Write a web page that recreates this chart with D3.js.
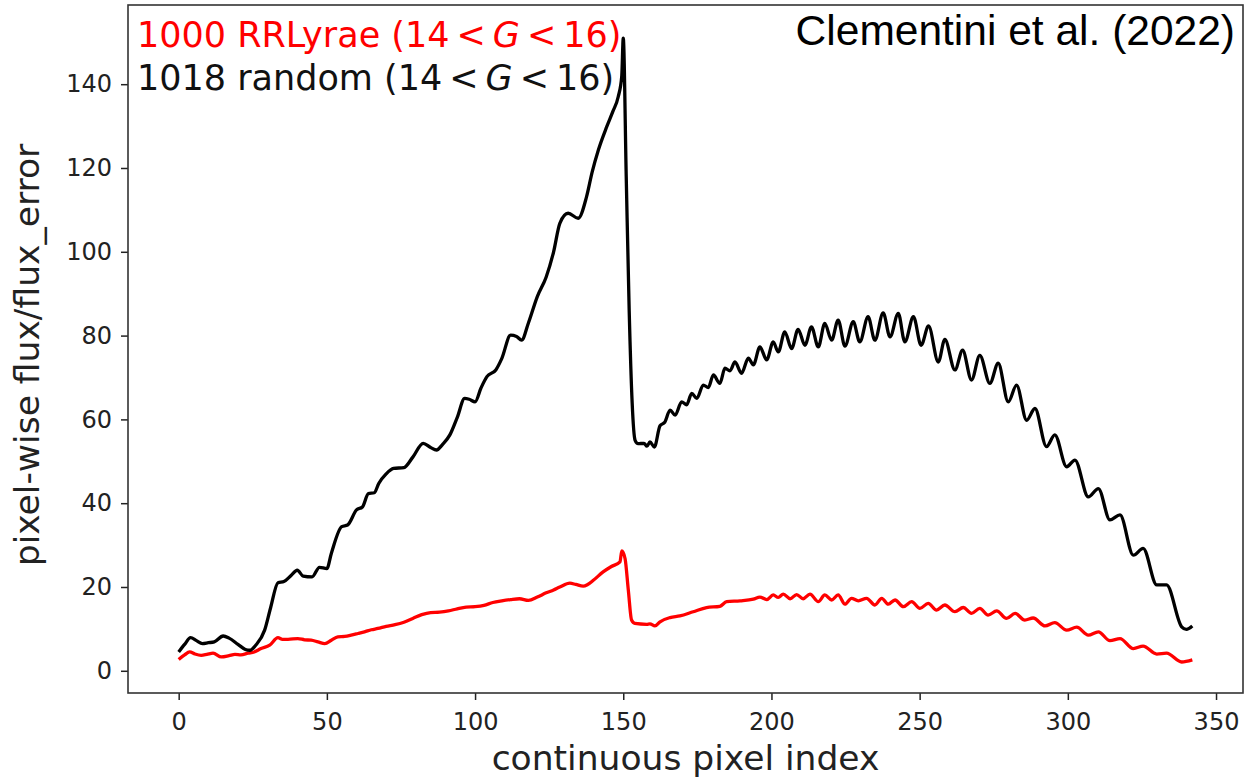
<!DOCTYPE html>
<html>
<head>
<meta charset="utf-8">
<script src="https://cdn.jsdelivr.net/npm/d3@7"></script>
<style>
  html, body { margin: 0; padding: 0; background: #fff; }
  svg { display: block; }
</style>
</head>
<body>
<svg id="chart" width="1246" height="779"></svg>
<script>
// ---- data ----
const xTicks = [0, 50, 100, 150, 200, 250, 300, 350];
const yTicks = [0, 20, 40, 60, 80, 100, 120, 140];

// black: 1018 random (14 < G < 16) ; pixel index / value pairs
const blackIndex = [0, 2, 4, 6, 8, 10, 12, 15, 17, 20, 22.5, 24, 26, 29, 31, 33.5, 35.5, 38, 40, 42, 45, 47.5, 50, 51.5, 55, 57, 60, 62, 64, 66, 67.5, 70, 72.5, 76, 79, 82.5, 85, 87, 89, 91.5, 94, 96.5, 98, 100, 102, 104, 107, 109, 112, 114, 115.7, 118, 121, 124, 126.5, 128.6, 131.4, 134.8, 137.6, 139.5, 141.6, 144.4, 146.5, 148.3, 149.5, 150, 151, 152, 153, 154, 155, 157, 158, 159, 160.5, 162.4, 164, 165.8, 167.5, 169.7, 171.4, 173.1, 174.8, 177, 178.7, 180.4, 182.6, 184.3, 186, 187.7, 189.9, 192.2, 193.9, 196.1, 198.4, 200.6, 202.3, 204.5, 206.8, 209, 211.3, 213.5, 215.8, 218, 220.3, 222.5, 224.8, 227.6, 229.8, 232.6, 234.9, 237.7, 240, 242.8, 245, 247.9, 250.5, 253, 256.3, 258.5, 261.9, 264.5, 267.5, 270.3, 273.7, 276.5, 279.9, 282.7, 286.1, 288.9, 292.8, 295.6, 299.6, 302.4, 306.9, 310.3, 314.2, 317.6, 322.1, 325.4, 330, 333.3, 338.4, 340, 342];
const blackValue = [4.5, 6.3, 7.9, 7.2, 6.5, 6.7, 6.9, 8.3, 7.8, 6.3, 5.1, 4.9, 6.1, 9.7, 15, 21.0, 21.3, 22.8, 24, 22.6, 22.4, 24.7, 24.4, 28.0, 34.4, 34.8, 38.4, 39.1, 42.3, 42.5, 44.7, 47, 48.3, 48.5, 51, 54.3, 53.3, 52.7, 54, 56.3, 60.5, 65.0, 64.8, 64.2, 67.5, 70.2, 71.8, 74.5, 80.1, 79.8, 78.9, 83, 89.3, 94.0, 100, 106.8, 109.2, 108.0, 113.1, 119, 124.3, 129.8, 133.5, 137.0, 142, 151, 118, 86, 64, 55, 54.2, 54.3, 53.6, 54.6, 53.4, 58.5, 59.3, 62.2, 61.0, 64.2, 63.5, 66.2, 65.0, 68.2, 67.6, 70.6, 68.6, 72.2, 71.6, 73.7, 71.0, 74.6, 73.0, 77.3, 74.2, 78.5, 76.1, 80.9, 76.9, 81.5, 77.7, 82.1, 77.3, 82.9, 78.9, 83.7, 77.5, 83.3, 78.5, 84.5, 78.9, 85.4, 79.7, 85.3, 78.5, 84.5, 77.7, 82.3, 73.7, 79.1, 71.8, 76.5, 69.4, 75.3, 68.6, 73.4, 64.2, 68.2, 59.8, 62.6, 53.5, 56.3, 48.7, 50.3, 41.5, 43.5, 36.0, 37.2, 27.6, 29.2, 20.5, 20.5, 10.5, 9.9, 10.7];

// red: 1000 RRLyrae (14 < G < 16)
const redIndex = [0, 2, 3.7, 5.5, 7.6, 9.5, 11.6, 14.4, 17, 19, 21, 23.4, 25.5, 27.8, 30.7, 33.5, 35, 36.9, 40.2, 42.5, 44.7, 47, 49.3, 51.5, 53.7, 56, 58.2, 60.5, 62.7, 65, 67.2, 70, 73, 76, 79, 82, 85, 88, 91, 94, 97, 100, 103, 106, 109, 112, 115, 118, 121, 124, 126.5, 128.6, 132, 134, 136.5, 138, 139.9, 143.2, 146, 148.9, 149.5, 150.6, 151.7, 152.8, 153.9, 157.9, 159, 160.7, 162.4, 165.8, 169.1, 173.6, 178.1, 182.6, 184.9, 189.4, 193.9, 196.1, 198.4, 200.6, 202.3, 204, 206.3, 208.5, 210.7, 213, 215.8, 218, 220.3, 222.5, 224.8, 227, 229.3, 232.1, 234.9, 237.2, 239.4, 241.7, 244.5, 247.3, 250.1, 252.9, 255.7, 258.5, 261.9, 264.7, 267.5, 270.3, 273.1, 276, 279.3, 282.2, 285.5, 288.3, 292.3, 295.6, 299.6, 303, 306.9, 310.3, 314.2, 317.6, 322.1, 325.4, 330, 333.3, 338.4, 342];
const redValue = [2.7, 3.8, 4.5, 4.0, 3.7, 3.9, 4.2, 3.3, 3.6, 3.9, 3.8, 4.2, 4.5, 5.3, 6.1, 7.9, 7.5, 7.5, 7.7, 7.4, 7.3, 6.9, 6.5, 7.3, 8.1, 8.2, 8.5, 8.9, 9.3, 9.8, 10.1, 10.6, 11.0, 11.6, 12.5, 13.4, 13.9, 14.0, 14.3, 14.8, 15.2, 15.3, 15.6, 16.3, 16.7, 17.0, 17.2, 16.8, 17.6, 18.6, 19.3, 20.0, 20.9, 20.6, 20.2, 20.6, 21.6, 23.6, 24.9, 26.0, 28.6, 26.8, 19.3, 12.1, 11.3, 11.1, 11.2, 10.7, 11.7, 12.7, 13.1, 14.1, 15.1, 15.4, 16.5, 16.7, 17.1, 17.6, 17.0, 18.1, 17.5, 18.3, 17.2, 18.2, 17.2, 18.3, 16.5, 18.1, 16.9, 18.1, 15.9, 17.3, 16.7, 17.3, 15.7, 17.3, 15.9, 16.9, 15.3, 16.5, 14.9, 16.1, 14.5, 15.7, 14.1, 15.1, 13.7, 14.9, 13.3, 14.3, 12.5, 13.7, 12.1, 12.6, 10.7, 11.5, 9.7, 10.4, 8.5, 9.3, 7.2, 7.7, 5.3, 5.9, 4.0, 4.2, 2.1, 2.6];

const seriesNames = ["1000 RRLyrae", "1018 random"];
const titleText = "Clementini et al. (2022)";
const xLabel = "continuous pixel index";
const yLabel = "pixel-wise flux/flux_error";

// ---- layout ----
const P = { left: 128, right: 1243, top: 5, bottom: 693 };
const svg = d3.select("#chart");

const x = d3.scaleLinear().domain([-17.1, 359.1]).range([P.left, P.right]);
const y = d3.scaleLinear().domain([-5.3, 158.9]).range([P.bottom, P.top]);

const FONT = "'DejaVu Sans', sans-serif";

// lines
const line = d3.line().x(d => x(d[0])).y(d => y(d[1])).curve(d3.curveMonotoneX);
const redData = redIndex.map((v, i) => [v, redValue[i]]);
const blackData = blackIndex.map((v, i) => [v, blackValue[i]]);

svg.append("path").datum(redData)
  .attr("d", line).attr("fill", "none").attr("stroke", "#ff0000")
  .attr("stroke-width", 3.3).attr("stroke-linejoin", "round").attr("stroke-linecap", "butt");
svg.append("path").datum(blackData)
  .attr("d", line).attr("fill", "none").attr("stroke", "#000000")
  .attr("stroke-width", 3.3).attr("stroke-linejoin", "round").attr("stroke-linecap", "butt");

// axes
const xAxis = d3.axisBottom(x).tickValues(xTicks).tickSize(7).tickPadding(13).tickFormat(d3.format("d"));
const gx = svg.append("g").attr("transform", `translate(0,${P.bottom})`).call(xAxis);
gx.select(".domain").remove();
gx.selectAll("line").attr("stroke", "#222").attr("stroke-width", 1.5);
gx.selectAll("text").attr("font-family", FONT).attr("font-size", 24).attr("fill", "#222");

const yAxis = d3.axisLeft(y).tickValues(yTicks).tickSize(7).tickPadding(9).tickFormat(d3.format("d"));
const gy = svg.append("g").attr("transform", `translate(${P.left},0)`).call(yAxis);
gy.select(".domain").remove();
gy.selectAll("line").attr("stroke", "#222").attr("stroke-width", 1.5);
gy.selectAll("text").attr("font-family", FONT).attr("font-size", 24).attr("fill", "#222");

// frame
svg.append("rect")
  .attr("x", P.left).attr("y", P.top)
  .attr("width", P.right - P.left).attr("height", P.bottom - P.top)
  .attr("fill", "none").attr("stroke", "#333").attr("stroke-width", 1.6);

// axis labels
svg.append("text").attr("x", (P.left + P.right) / 2).attr("y", 770)
  .attr("text-anchor", "middle").attr("font-family", FONT).attr("font-size", 34.5)
  .attr("fill", "#222").text(xLabel);
svg.append("text")
  .attr("transform", `translate(39,${(P.top + P.bottom) / 2 + 6}) rotate(-90)`)
  .attr("text-anchor", "middle").attr("font-family", FONT).attr("font-size", 34.5)
  .attr("fill", "#222").text(yLabel);

// legend texts
function legendLine(label, color, yPos) {
  const t = svg.append("text").attr("x", 137).attr("y", yPos)
    .attr("font-family", FONT).attr("font-size", 35).attr("fill", color);
  t.append("tspan").text(label + " (14\u2009<\u2009");
  t.append("tspan").attr("font-style", "italic").text("G");
  t.append("tspan").text("\u2009<\u200916)");
}
legendLine(seriesNames[0], "#ff0000", 46.7);
legendLine(seriesNames[1], "#111111", 90);

// title annotation
svg.append("text").attr("x", 1235).attr("y", 45).attr("text-anchor", "end")
  .attr("font-family", "'Liberation Sans', Arial, sans-serif").attr("font-size", 42.5)
  .attr("fill", "#000").text(titleText);
</script>
</body>
</html>
